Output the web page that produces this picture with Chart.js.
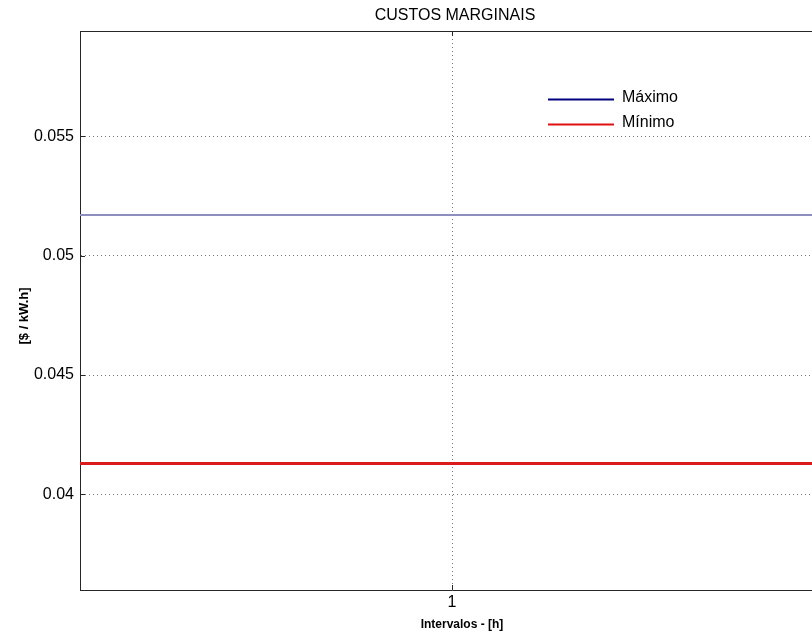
<!DOCTYPE html>
<html>
<head>
<meta charset="utf-8">
<script src="https://cdn.jsdelivr.net/npm/chart.js@4/dist/chart.umd.min.js"></script>
<style>
  html, body { margin: 0; padding: 0; background: #fff; overflow: hidden; }
  #wrap { width: 830px; height: 634px; }
</style>
</head>
<body>
<div id="wrap"><canvas id="c" width="830" height="634"></canvas></div>
<script>
// Marginal cost per hourly interval
const intervals = [1];
const maxCost = [0.0517];
const minCost = [0.0413];
const seriesNames = ['Máximo', 'Mínimo'];
const yTickValues = [0.04, 0.045, 0.05, 0.055];
const xTickValues = [1];
const chartTitle = 'CUSTOS MARGINAIS';
const xTitle = 'Intervalos - [h]';
const yTitle = '[$ / kW.h]';

// Each interval value is held constant across its hour (stair style)
function stairs(xs, ys) {
  const pts = [];
  xs.forEach((x, i) => {
    pts.push({ x: x - 0.5, y: ys[i] });
    pts.push({ x: x + 0.5, y: ys[i] });
  });
  return pts;
}

const FONT = 'Liberation Sans, Arial, Helvetica, sans-serif';
const legendColors = ['#00007f', '#e01010'];

// MATLAB-like decorations: titles, inward tick marks, top frame, in-axes legend
const decorations = {
  id: 'decorations',
  afterDraw(chart) {
    const { ctx, chartArea: a, scales } = chart;
    ctx.save();
    ctx.strokeStyle = '#262626';
    ctx.lineWidth = 1;
    // top frame
    ctx.beginPath();
    ctx.moveTo(a.left, a.top + 0.5);
    ctx.lineTo(a.right, a.top + 0.5);
    ctx.stroke();
    // inward ticks
    const tl = 5;
    yTickValues.forEach(v => {
      const y = Math.round(scales.y.getPixelForValue(v)) + 0.5;
      ctx.beginPath();
      ctx.moveTo(a.left, y); ctx.lineTo(a.left + tl, y);
      ctx.moveTo(a.right, y); ctx.lineTo(a.right - tl, y);
      ctx.stroke();
    });
    xTickValues.forEach(v => {
      const x = Math.round(scales.x.getPixelForValue(v)) + 0.5;
      ctx.beginPath();
      ctx.moveTo(x, a.bottom); ctx.lineTo(x, a.bottom - tl);
      ctx.moveTo(x, a.top); ctx.lineTo(x, a.top + tl);
      ctx.stroke();
    });
    ctx.fillStyle = '#000';
    ctx.textAlign = 'center';
    ctx.textBaseline = 'middle';
    // chart title
    ctx.font = '16px ' + FONT;
    ctx.fillText(chartTitle, 455, 16);
    // x axis title
    ctx.font = 'bold 12px ' + FONT;
    ctx.fillText(xTitle, 462, 625);
    // y axis title
    ctx.save();
    ctx.translate(24, 316);
    ctx.rotate(-Math.PI / 2);
    ctx.font = 'bold 13px ' + FONT;
    ctx.fillText(yTitle, 0, 0);
    ctx.restore();
    // legend
    ctx.textAlign = 'left';
    ctx.font = '16px ' + FONT;
    seriesNames.forEach((name, i) => {
      const y = 99 + i * 25;
      ctx.strokeStyle = legendColors[i];
      ctx.lineWidth = 2;
      ctx.beginPath();
      ctx.moveTo(548, y + 0.5);
      ctx.lineTo(614, y + 0.5);
      ctx.stroke();
      ctx.fillStyle = '#000';
      ctx.fillText(name, 622, y - 1);
    });
    ctx.restore();
  }
};

new Chart(document.getElementById('c'), {
  type: 'line',
  data: {
    datasets: [
      {
        label: seriesNames[0],
        data: stairs(intervals, maxCost),
        borderColor: '#8d8dbe',
        borderWidth: 2,
        pointRadius: 0
      },
      {
        label: seriesNames[1],
        data: stairs(intervals, minCost),
        borderColor: '#dc1c1c',
        borderWidth: 3,
        pointRadius: 0
      }
    ]
  },
  options: {
    responsive: false,
    animation: false,
    devicePixelRatio: 1,
    layout: { padding: { top: 31, right: 6, left: 0, bottom: 0 } },
    plugins: {
      legend: { display: false },
      title: { display: false },
      tooltip: { enabled: false }
    },
    scales: {
      x: {
        type: 'linear',
        min: 0.5,
        max: 1.5,
        afterBuildTicks(scale) { scale.ticks = xTickValues.map(v => ({ value: v })); },
        afterFit(scale) { scale.height = 44; },
        grid: { color: '#777', drawTicks: false, lineWidth: 1 },
        border: { display: true, color: '#262626', width: 1, dash: [1, 3] },
        ticks: {
          color: '#000',
          padding: 3,
          font: { family: FONT, size: 16 },
          callback: v => String(v)
        },
        title: { display: false }
      },
      y: {
        type: 'linear',
        min: 0.036,
        max: 0.0594,
        afterBuildTicks(scale) { scale.ticks = yTickValues.map(v => ({ value: v })); },
        afterFit(scale) { scale.width = 80; },
        grid: { color: '#777', drawTicks: false, lineWidth: 1 },
        border: { display: true, color: '#262626', width: 1, dash: [1, 3] },
        ticks: {
          color: '#000',
          padding: 6,
          font: { family: FONT, size: 16 },
          callback: v => String(v)
        },
        title: { display: false }
      }
    }
  },
  plugins: [decorations]
});
</script>
</body>
</html>
